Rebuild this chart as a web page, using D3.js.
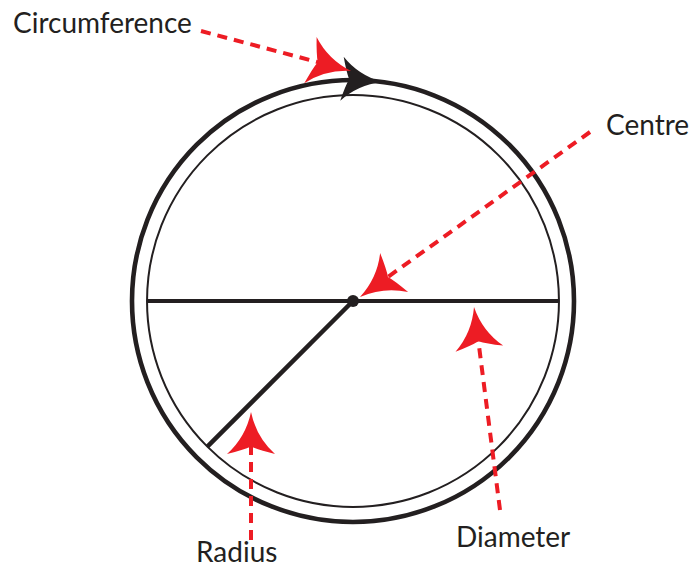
<!DOCTYPE html>
<html>
<head>
<meta charset="utf-8">
<script src="https://cdn.jsdelivr.net/npm/d3@7"></script>
<style>
  body { margin: 0; background: #fff; }
  svg { display: block; }
</style>
</head>
<body>
<div id="diagram"></div>
<script>
const width = 690;
const height = 569;

// diagram values (unit circle)
const circleRadii = [1, 0.932];          // outer ring, inner ring
const diameterEnds = [-0.932, 0.932];
const radiusAngleDeg = 135;               // radius drawn toward lower-left
const circumArrowAngleDeg = 7.5;          // clockwise from top
const labels = ["Circumference", "Centre", "Diameter", "Radius"];

const ink = "#231f20";
const red = "#ed1c24";

const svg = d3.select("#diagram")
    .append("svg")
    .attr("width", width)
    .attr("height", height);

// unit -> pixel scales
const cx = 353, cy = 301, R = 221;
const x = d3.scaleLinear().domain([-1, 1]).range([cx - R, cx + R]);
const y = d3.scaleLinear().domain([-1, 1]).range([cy - R, cy + R]);

// rings
svg.selectAll("circle.ring")
    .data(circleRadii)
    .enter().append("circle")
    .attr("class", "ring")
    .attr("cx", x(0))
    .attr("cy", y(0))
    .attr("r", d => x(d) - x(0))
    .attr("fill", "none")
    .attr("stroke", ink)
    .attr("stroke-width", (d, i) => i === 0 ? 4.6 : 2);

// diameter
svg.append("line")
    .attr("x1", x(diameterEnds[0])).attr("y1", y(0))
    .attr("x2", x(diameterEnds[1])).attr("y2", y(0))
    .attr("stroke", ink)
    .attr("stroke-width", 4);

// radius
const ra = radiusAngleDeg * Math.PI / 180;
svg.append("line")
    .attr("x1", x(0)).attr("y1", y(0))
    .attr("x2", x(circleRadii[1] * Math.cos(ra)))
    .attr("y2", y(circleRadii[1] * Math.sin(ra)))
    .attr("stroke", ink)
    .attr("stroke-width", 4.5);

// centre dot
svg.append("circle")
    .attr("cx", x(0)).attr("cy", y(0))
    .attr("r", 6)
    .attr("fill", ink);

// concave arrowhead path, tip at (0,0) pointing +x
function headPath(L, W) {
    const n = 0.82 * L;
    return `M0,0 Q${-0.6 * L},${-0.22 * W} ${-L},${-W}` +
           ` Q${-0.9 * L},${-0.3 * W} ${-n},0` +
           ` Q${-0.9 * L},${0.3 * W} ${-L},${W}` +
           ` Q${-0.6 * L},${0.22 * W} 0,0Z`;
}

function drawHead(tip, angle, L, W, color) {
    svg.append("path")
        .attr("d", headPath(L, W))
        .attr("transform", `translate(${tip[0]},${tip[1]}) rotate(${angle})`)
        .attr("fill", color);
}

// black direction arrow on circumference
const ca = (circumArrowAngleDeg - 90) * Math.PI / 180;
const cTip = [x(Math.cos(ca)), y(Math.sin(ca))];
drawHead(cTip, circumArrowAngleDeg - 3, 40, 22, ink);

// red pointers: from label to tip
const pointers = [
    { from: [201, 31], tip: [351, 71] },
    { from: [590, 132], tip: [360, 297] },
    { from: [500, 510], tip: [474, 307] },
    { from: [251, 540], tip: [251, 412] }
];

const L = 42, W = 24;
pointers.forEach(p => {
    const dx = p.tip[0] - p.from[0], dy = p.tip[1] - p.from[1];
    const len = Math.hypot(dx, dy);
    const ux = dx / len, uy = dy / len;
    svg.append("line")
        .attr("x1", p.from[0]).attr("y1", p.from[1])
        .attr("x2", p.tip[0] - ux * L * 0.75)
        .attr("y2", p.tip[1] - uy * L * 0.75)
        .attr("stroke", red)
        .attr("stroke-width", 4)
        .attr("stroke-dasharray", "10,7");
    drawHead(p.tip, Math.atan2(dy, dx) * 180 / Math.PI, L, W, red);
});

// labels
const labelPos = [
    { x: 13, y: 33 },
    { x: 606, y: 135 },
    { x: 456, y: 547 },
    { x: 196, y: 562 }
];

svg.selectAll("text.label")
    .data(labels)
    .enter().append("text")
    .attr("class", "label")
    .attr("x", (d, i) => labelPos[i].x)
    .attr("y", (d, i) => labelPos[i].y)
    .attr("fill", ink)
    .style("font-family", "Lato, 'Open Sans', sans-serif")
    .style("font-size", "28px")
    .text(d => d);
</script>
</body>
</html>
